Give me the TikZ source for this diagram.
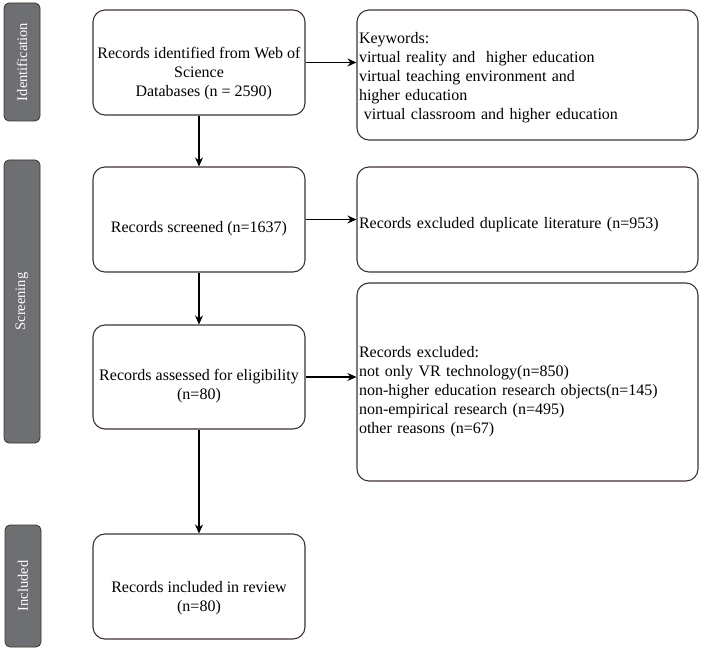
\documentclass[tikz,border=0pt]{standalone}
\usepackage{fontspec}
\setmainfont{Liberation Serif}
\usetikzlibrary{arrows.meta}
\definecolor{barfill}{RGB}{110,111,115}
\definecolor{edge}{RGB}{62,52,45}
\newcommand{\lowc}[2]{\raisebox{-#1}[\height][\depth]{\begin{tabular}{@{}c@{}}#2\end{tabular}}}
\newcommand{\lowl}[2]{\raisebox{-#1}[\height][\depth]{\begin{tabular}{@{}l@{}}#2\end{tabular}}}
\tikzset{
  box/.style={draw=edge, line width=1.1pt, rounded corners=12pt, fill=white,
    font=\fontsize{16}{19}\selectfont, align=center, inner sep=2pt, minimum width=212pt},
  rbox/.style={box, align=left, text width=337pt},
  bar/.style={draw=edge, line width=0.8pt, rounded corners=5pt, fill=barfill,
    text=white, font=\fontsize{14.5}{16}\selectfont, rotate=90, inner sep=0pt},
  arr/.style={line width=1.1pt, -{Stealth[length=9pt,width=8pt]}}
}
\begin{document}
\begin{tikzpicture}[x=1pt,y=-1pt]
\useasboundingbox (0,0) rectangle (702,650);
% side bars
\node[bar, minimum width=118pt, minimum height=36pt] (ident) at (22,62) {Identification};
\node[bar, minimum width=283pt, minimum height=36pt] (scr) at (22,301.5) {Screening};
\node[bar, minimum width=122pt, minimum height=36pt] (incl) at (23,586) {Included};
% left column
\node[box, minimum height=105pt] (b1) at (199,62.5)
  {\lowc{11pt}{Records identified from Web of\\Science\\\hspace*{0.6em}Databases (n = 2590)}};
\node[box, minimum height=105pt] (b2) at (199,219.5)
  {\lowc{9pt}{Records screened (n=1637)}};
\node[box, minimum height=104pt] (b3) at (199,377)
  {\lowc{9pt}{Records assessed for eligibility\\(n=80)}};
\node[box, minimum height=105pt] (b4) at (199,586.5)
  {\lowc{12pt}{Records included in review\\(n=80)}};
% right column
\node[rbox, minimum height=130pt] (kw) at (527.5,75)
  {\lowl{3pt}{Keywords:\\virtual reality and\ \ higher education\\virtual teaching environment and\\higher education\\\hspace*{0.3em}virtual classroom and higher education}};
\node[rbox, minimum height=105pt] (dup) at (527.5,219.5)
  {\lowl{5pt}{Records excluded duplicate literature (n=953)}};
\node[rbox, minimum height=198pt] (ex) at (527.5,382)
  {\lowl{10pt}{Records excluded:\\not only VR technology(n=850)\\non-higher education research objects(n=145)\\non-empirical research (n=495)\\other reasons (n=67)}};
% arrows
\draw[arr] (b1.south) -- (b2.north);
\draw[arr] (b2.south) -- (b3.north);
\draw[arr] (b3.south) -- (b4.north);
\draw[arr] (b1.east) -- (b1.east -| kw.west);
\draw[arr] (b2.east) -- (b2.east -| dup.west);
\draw[arr] (b3.east) -- (b3.east -| ex.west);
\end{tikzpicture}
\end{document}
